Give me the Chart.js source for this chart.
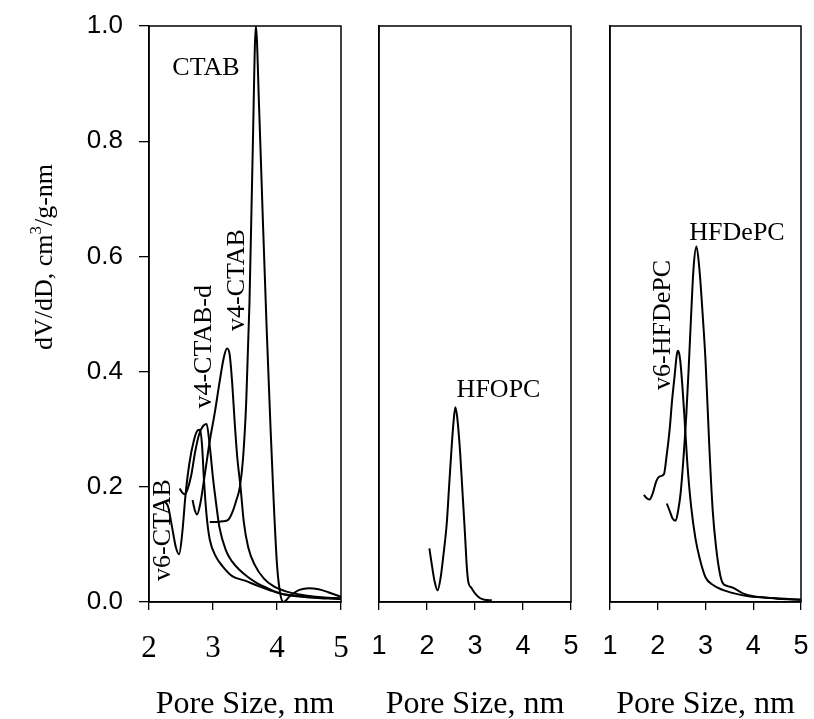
<!DOCTYPE html>
<html>
<head>
<meta charset="utf-8">
<script src="https://cdn.jsdelivr.net/npm/chart.js@4.4.0/dist/chart.umd.min.js"></script>
<style>
  html, body { margin: 0; padding: 0; background: #fff; }
  #wrap { position: relative; width: 814px; height: 719px; }
  #wrap canvas { position: absolute; left: 0; top: 0; }
</style>
</head>
<body>
<div id="wrap">
  <canvas id="c1" width="814" height="719"></canvas>
  <canvas id="c2" width="814" height="719"></canvas>
  <canvas id="c3" width="814" height="719"></canvas>
</div>
<script>
// ---- data (pore size nm, dV/dD cm3/g-nm) ----
const xTicksLeft = [2, 3, 4, 5];
const xTicksOther = [1, 2, 3, 4, 5];
const yTicks = [0.0, 0.2, 0.4, 0.6, 0.8, 1.0];

// left panel
const ctabX   = [2.95, 3.05, 3.15, 3.24, 3.3, 3.36, 3.42, 3.47, 3.52, 3.57, 3.62, 3.67, 3.72, 3.78, 3.84, 3.9, 3.95, 4.0, 4.05, 4.1, 4.2, 4.35, 4.5, 4.65, 4.8, 5.0];
const ctabY   = [0.139, 0.139, 0.14, 0.143, 0.155, 0.175, 0.2, 0.25, 0.35, 0.52, 0.78, 1.0, 0.86, 0.66, 0.47, 0.3, 0.17, 0.065, 0.015, 0.0, 0.01, 0.021, 0.024, 0.022, 0.017, 0.009];

const v4ctabX = [2.68, 2.72, 2.75, 2.8, 2.87, 2.95, 3.03, 3.1, 3.17, 3.22, 3.26, 3.3, 3.34, 3.38, 3.43, 3.48, 3.55, 3.65, 3.8, 3.95, 4.15, 4.4, 4.7, 5.0];
const v4ctabY = [0.177, 0.158, 0.152, 0.17, 0.22, 0.28, 0.33, 0.38, 0.425, 0.44, 0.43, 0.38, 0.31, 0.25, 0.2, 0.14, 0.095, 0.065, 0.04, 0.027, 0.018, 0.012, 0.008, 0.005];

const v4ctabdX = [2.48, 2.52, 2.56, 2.6, 2.66, 2.72, 2.78, 2.84, 2.9, 2.95, 3.0, 3.05, 3.1, 3.2, 3.3, 3.42, 3.55, 3.7, 3.85, 4.05, 4.4, 5.0];
const v4ctabdY = [0.197, 0.19, 0.187, 0.195, 0.22, 0.26, 0.29, 0.305, 0.309, 0.27, 0.215, 0.17, 0.13, 0.09, 0.07, 0.055, 0.043, 0.032, 0.024, 0.015, 0.01, 0.006];

const v6ctabX = [2.24, 2.3, 2.36, 2.42, 2.47, 2.52, 2.57, 2.63, 2.7, 2.76, 2.8, 2.83, 2.86, 2.9, 2.95, 3.05, 3.15, 3.3, 3.5, 3.7, 3.9, 4.15, 4.5, 5.0];
const v6ctabY = [0.175, 0.165, 0.13, 0.095, 0.083, 0.12, 0.185, 0.24, 0.28, 0.298, 0.299, 0.27, 0.21, 0.15, 0.108, 0.078, 0.062, 0.045, 0.037, 0.028, 0.02, 0.012, 0.008, 0.005];

// middle panel
const hfopcX = [2.05, 2.1, 2.16, 2.22, 2.28, 2.34, 2.41, 2.46, 2.51, 2.55, 2.59, 2.63, 2.69, 2.74, 2.79, 2.83, 2.86, 2.92, 3.0, 3.1, 3.2, 3.35];
const hfopcY = [0.093, 0.065, 0.035, 0.02, 0.04, 0.08, 0.135, 0.2, 0.265, 0.31, 0.338, 0.32, 0.26, 0.19, 0.12, 0.06, 0.035, 0.025, 0.015, 0.007, 0.004, 0.003];

// right panel
const v6hfdepcX = [1.71, 1.77, 1.83, 1.9, 1.97, 2.04, 2.13, 2.18, 2.25, 2.3, 2.35, 2.4, 2.43, 2.47, 2.52, 2.56, 2.62, 2.7, 2.79, 2.88, 3.0, 3.15, 3.36, 3.6, 3.9, 4.2, 4.6, 5.0];
const v6hfdepcY = [0.186, 0.18, 0.178, 0.19, 0.21, 0.218, 0.222, 0.25, 0.3, 0.35, 0.39, 0.43, 0.436, 0.42, 0.37, 0.32, 0.24, 0.165, 0.11, 0.075, 0.043, 0.03, 0.021, 0.015, 0.01, 0.008, 0.005, 0.004];

const hfdepcX = [2.19, 2.25, 2.31, 2.375, 2.43, 2.48, 2.53, 2.6, 2.65, 2.7, 2.75, 2.81, 2.87, 2.94, 3.0, 3.08, 3.15, 3.22, 3.3, 3.36, 3.45, 3.57, 3.78, 4.0, 4.4, 5.0];
const hfdepcY = [0.171, 0.158, 0.145, 0.141, 0.16, 0.19, 0.24, 0.328, 0.41, 0.5, 0.58, 0.617, 0.58, 0.5, 0.42, 0.27, 0.16, 0.096, 0.05, 0.033, 0.028, 0.025, 0.015, 0.01, 0.007, 0.004];

const SERIF = '"Liberation Serif", "Times New Roman", serif';
const SANS = '"Liberation Sans", Arial, sans-serif';

function pts(xs, ys) {
    return xs.map((x, i) => ({ x: x, y: ys[i] }));
}

function curve(xs, ys) {
    return {
        data: pts(xs, ys),
        borderColor: '#000',
        borderWidth: 2,
        pointRadius: 0,
        fill: false,
        cubicInterpolationMode: 'monotone'
    };
}

// box around each panel + text notes
function panelPlugin(notes, extra) {
    return {
        id: 'panelDeco',
        afterDatasetsDraw(chart) {
            const ctx = chart.ctx;
            const a = chart.chartArea;
            ctx.save();
            ctx.strokeStyle = '#000';
            ctx.lineWidth = 1.5;
            ctx.strokeRect(a.left, a.top, a.right - a.left, a.bottom - a.top);
            ctx.fillStyle = '#000';
            ctx.font = '26px ' + SERIF;
            notes.forEach(n => {
                const px = chart.scales.x.getPixelForValue(n.x);
                const py = chart.scales.y.getPixelForValue(n.y);
                ctx.save();
                ctx.translate(px, py);
                if (n.rot) ctx.rotate(-Math.PI / 2);
                ctx.textAlign = 'center';
                ctx.textBaseline = 'alphabetic';
                ctx.fillText(n.text, 0, 0);
                ctx.restore();
            });
            // x title
            ctx.font = '32px ' + SERIF;
            ctx.textAlign = 'center';
            ctx.textBaseline = 'alphabetic';
            ctx.fillText('Pore Size, nm', (a.left + a.right) / 2, 713);
            if (extra) extra(ctx);
            ctx.restore();
        }
    };
}

function yTitle(ctx) {
    ctx.save();
    ctx.translate(52, 257);
    ctx.rotate(-Math.PI / 2);
    ctx.fillStyle = '#000';
    const big = '26px ' + SERIF, small = '17px ' + SERIF;
    const p1 = 'dV/dD, cm', p2 = '3', p3 = '/g-nm';
    ctx.font = big; const w1 = ctx.measureText(p1).width, w3 = ctx.measureText(p3).width;
    ctx.font = small; const w2 = ctx.measureText(p2).width;
    let x = -(w1 + w2 + w3) / 2;
    ctx.textAlign = 'left';
    ctx.textBaseline = 'alphabetic';
    ctx.font = big; ctx.fillText(p1, x, 0); x += w1;
    ctx.font = small; ctx.fillText(p2, x, -11); x += w2;
    ctx.font = big; ctx.fillText(p3, x, 0);
    ctx.restore();
}

function makePanel(id, left, right, xMin, xMax, xTickVals, xFont, showY, datasets, notes, extra) {
    const yw = showY ? left : 30;
    return new Chart(document.getElementById(id), {
        type: 'line',
        data: { datasets: datasets },
        options: {
            responsive: false,
            animation: false,
            devicePixelRatio: 1,
            layout: { padding: { left: left - yw, right: 814 - right, top: 26, bottom: 0 } },
            plugins: { legend: { display: false }, tooltip: { enabled: false } },
            scales: {
                x: {
                    type: 'linear',
                    min: xMin, max: xMax,
                    afterFit: s => { s.height = 117; s.paddingLeft = 0; s.paddingRight = 0; },
                    afterBuildTicks: s => { s.ticks = xTickVals.map(v => ({ value: v })); },
                    ticks: { color: '#000', font: xFont, padding: 20, maxRotation: 0, autoSkip: false,
                             callback: v => String(v) },
                    grid: { drawOnChartArea: false, drawTicks: true, tickLength: 8, color: '#000', lineWidth: 1.3 },
                    border: { display: true, color: '#000', width: 1.5 }
                },
                y: {
                    min: 0, max: 1,
                    afterFit: s => { s.width = yw; s.paddingTop = 0; s.paddingBottom = 0; },
                    afterBuildTicks: s => { s.ticks = yTicks.map(v => ({ value: v })); },
                    ticks: { display: showY, color: '#000', font: { family: SANS, size: 26 }, padding: 16,
                             callback: v => v.toFixed(1) },
                    grid: { display: showY, drawOnChartArea: false, drawTicks: true, tickLength: 10, color: '#000', lineWidth: 1.3 },
                    border: { display: true, color: '#000', width: 1.5 }
                }
            }
        },
        plugins: [panelPlugin(notes, extra)]
    });
}

makePanel('c1', 149, 341, 2, 5, xTicksLeft, { family: SERIF, size: 31 }, true,
    [curve(ctabX, ctabY), curve(v4ctabX, v4ctabY), curve(v4ctabdX, v4ctabdY), curve(v6ctabX, v6ctabY)],
    [
        { text: 'CTAB', x: 2.89, y: 0.915 },
        { text: 'v4-CTAB', x: 3.48, y: 0.559, rot: true },
        { text: 'v4-CTAB-d', x: 2.97, y: 0.443, rot: true },
        { text: 'v6-CTAB', x: 2.33, y: 0.125, rot: true }
    ], yTitle);

makePanel('c2', 379, 571, 1, 5, xTicksOther, { family: SANS, size: 27 }, false,
    [curve(hfopcX, hfopcY)],
    [{ text: 'HFOPC', x: 3.49, y: 0.356 }]);

makePanel('c3', 610, 801, 1, 5, xTicksOther, { family: SANS, size: 27 }, false,
    [curve(v6hfdepcX, v6hfdepcY), curve(hfdepcX, hfdepcY)],
    [
        { text: 'HFDePC', x: 3.66, y: 0.628 },
        { text: 'v6-HFDePC', x: 2.25, y: 0.481, rot: true }
    ]);
</script>
</body>
</html>
